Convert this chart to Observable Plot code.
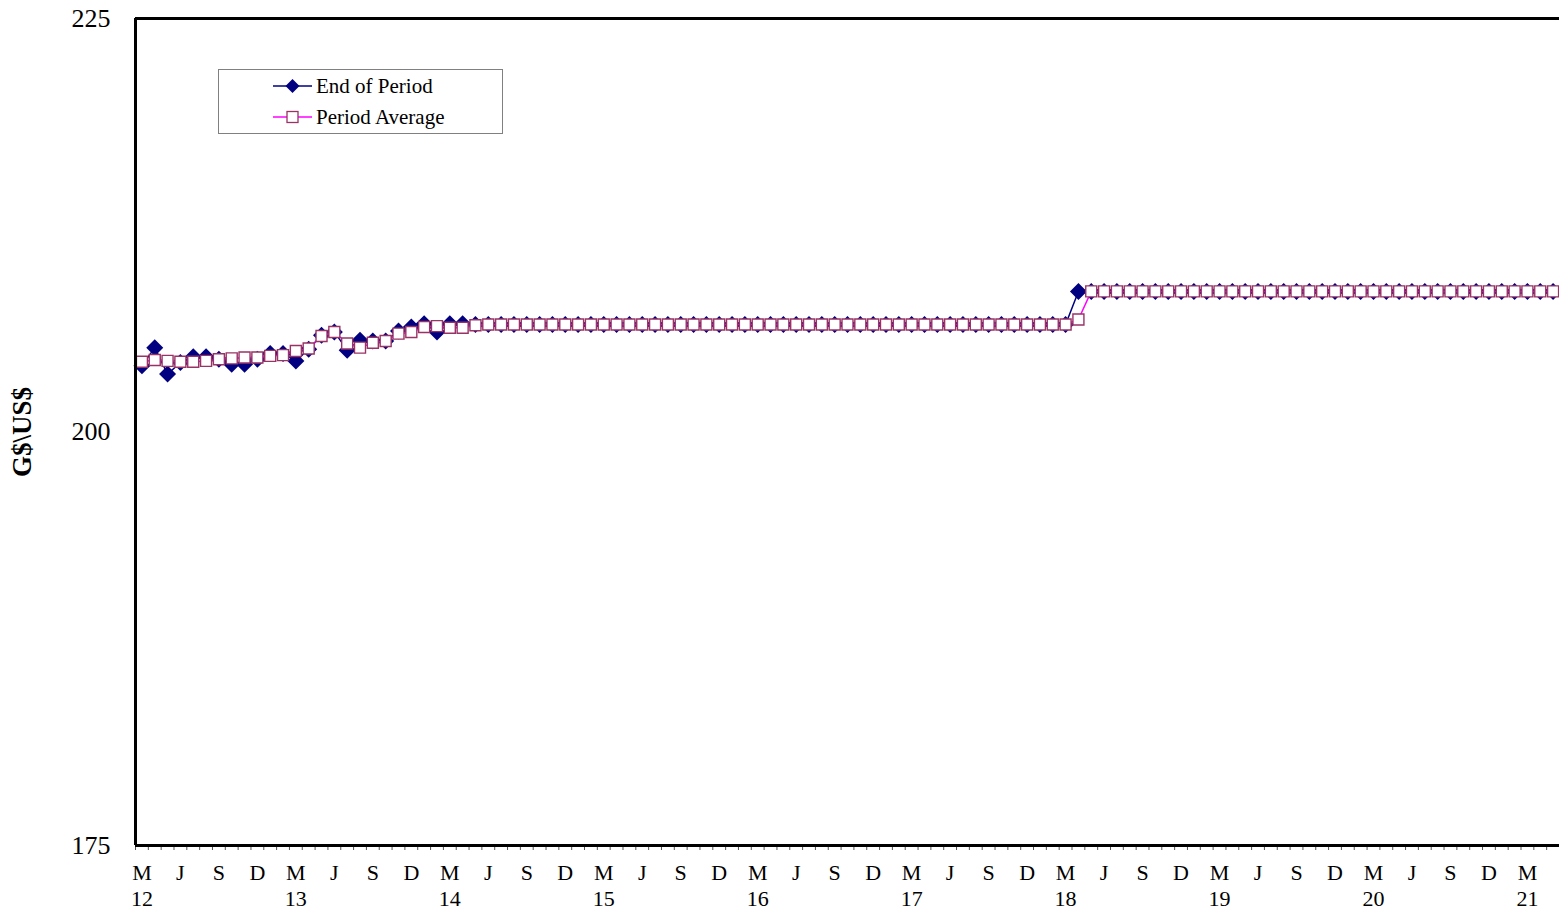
<!DOCTYPE html>
<html><head><meta charset="utf-8">
<script src="https://cdn.jsdelivr.net/npm/d3@7"></script>
<script src="https://cdn.jsdelivr.net/npm/@observablehq/plot@0.6"></script>
<style>
body{margin:0;background:#fff;}
#wrap{position:relative;width:1559px;height:916px;font-family:"Liberation Serif","Times New Roman",serif;}
#wrap svg text{font-family:"Liberation Serif","Times New Roman",serif;}
#legend{position:absolute;left:218px;top:69px;width:283px;height:63px;border:1px solid #808080;background:#fff;}
.row{position:absolute;left:0;height:24px;display:flex;align-items:center;font-size:21px;color:#000;white-space:nowrap;}
.row svg{margin-left:54px;margin-right:3px;}
</style></head><body>
<div id="wrap"><div id="legend">
<div class="row" style="top:4px"><svg width="40" height="24"><line x1="0" y1="12" x2="39" y2="12" stroke="#000080" stroke-width="1.5"/><path d="M19.5,5 L26.5,12 L19.5,19 L12.5,12 Z" fill="#000080"/></svg><span>End of Period</span></div>
<div class="row" style="top:35px"><svg width="40" height="24"><line x1="0" y1="12" x2="39" y2="12" stroke="#FF00FF" stroke-width="1.5"/><rect x="14" y="6.5" width="11" height="11" fill="#fff" stroke="#993366" stroke-width="1.3"/></svg><span>Period Average</span></div>
</div></div>
<script>
// Monthly data, March 2012 .. May 2021 (111 months)
const endOfPeriod = [
  204.0, 205.1, 203.5, 204.2, 204.55, 204.55, 204.4, 204.1, 204.1, 204.4, 204.75, 204.75,
  204.3, 205.0, 205.85, 206.05, 204.95, 205.55, 205.5, 205.5, 206.1, 206.35, 206.55, 206.05,
  206.55, 206.55, 206.5, 206.5, 206.5, 206.5, 206.5, 206.5, 206.5, 206.5, 206.5, 206.5,
  206.5, 206.5, 206.5, 206.5, 206.5, 206.5, 206.5, 206.5, 206.5, 206.5, 206.5, 206.5,
  206.5, 206.5, 206.5, 206.5, 206.5, 206.5, 206.5, 206.5, 206.5, 206.5, 206.5, 206.5,
  206.5, 206.5, 206.5, 206.5, 206.5, 206.5, 206.5, 206.5, 206.5, 206.5, 206.5, 206.5,
  206.5, 208.5, 208.5, 208.5, 208.5, 208.5, 208.5, 208.5, 208.5, 208.5, 208.5, 208.5,
  208.5, 208.5, 208.5, 208.5, 208.5, 208.5, 208.5, 208.5, 208.5, 208.5, 208.5, 208.5,
  208.5, 208.5, 208.5, 208.5, 208.5, 208.5, 208.5, 208.5, 208.5, 208.5, 208.5, 208.5,
  208.5, 208.5, 208.5
];
const periodAverage = [
  204.25, 204.35, 204.3, 204.25, 204.25, 204.3, 204.4, 204.45, 204.5, 204.5, 204.6, 204.65,
  204.9, 205.05, 205.8, 206.05, 205.35, 205.1, 205.4, 205.5, 205.95, 206.05, 206.35, 206.4,
  206.3, 206.3, 206.45, 206.5, 206.5, 206.5, 206.5, 206.5, 206.5, 206.5, 206.5, 206.5,
  206.5, 206.5, 206.5, 206.5, 206.5, 206.5, 206.5, 206.5, 206.5, 206.5, 206.5, 206.5,
  206.5, 206.5, 206.5, 206.5, 206.5, 206.5, 206.5, 206.5, 206.5, 206.5, 206.5, 206.5,
  206.5, 206.5, 206.5, 206.5, 206.5, 206.5, 206.5, 206.5, 206.5, 206.5, 206.5, 206.5,
  206.5, 206.8, 208.5, 208.5, 208.5, 208.5, 208.5, 208.5, 208.5, 208.5, 208.5, 208.5,
  208.5, 208.5, 208.5, 208.5, 208.5, 208.5, 208.5, 208.5, 208.5, 208.5, 208.5, 208.5,
  208.5, 208.5, 208.5, 208.5, 208.5, 208.5, 208.5, 208.5, 208.5, 208.5, 208.5, 208.5,
  208.5, 208.5, 208.5
];
const quarterLetters = ["M", "J", "S", "D"];
const yearLabels = ["12", "13", "14", "15", "16", "17", "18", "19", "20", "21"];
const yTicks = [175, 200, 225];
const yTitle = "G$\\US$";
const serif = "Liberation Serif, Times New Roman, serif";

const n = endOfPeriod.length;
const rows = d3.range(n).map(i => ({x: i + 0.5, end: endOfPeriod[i], avg: periodAverage[i]}));

const diamond = {draw(ctx, size) { const h = Math.sqrt(size / Math.PI); ctx.moveTo(0, -h); ctx.lineTo(h, 0); ctx.lineTo(0, h); ctx.lineTo(-h, 0); ctx.closePath(); }};
const square = {draw(ctx, size) { const h = Math.sqrt(size / Math.PI); ctx.rect(-h, -h, 2 * h, 2 * h); }};

const labelTicks = d3.range(0, n, 3).map(i => i + 0.5);
const fmt = d => {
  const k = Math.round(d - 0.5) / 3;
  const letter = quarterLetters[k % 4];
  return letter === "M" ? letter + "\n" + yearLabels[Math.floor(k / 4)] : letter;
};

const chart = Plot.plot({
  width: 1559, height: 916,
  marginLeft: 135, marginRight: 0, marginTop: 18, marginBottom: 71,
  x: {domain: [0, n], axis: null},
  y: {domain: [175, 225], axis: null},
  style: {fontFamily: serif, fontSize: "22px", background: "transparent", color: "#000"},
  marks: [
    Plot.axisX(d3.range(0, n + 1), {tickSize: 5, stroke: "#555", fill: "none", label: null}),
    Plot.axisX(labelTicks, {tickSize: 0, tickPadding: 17, tickFormat: fmt, lineHeight: 1.15, label: null, fill: "#000", fontSize: 22, fontFamily: serif}),
    Plot.axisY(yTicks, {tickSize: 0, tickPadding: 25, label: null, fill: "#000", fontSize: 26, fontFamily: serif, fontVariant: "normal"}),
    Plot.text([yTitle], {frameAnchor: "left", textAnchor: "middle", rotate: -90, dx: -113, fontWeight: "bold", fill: "#000", fontSize: 27, fontFamily: serif}),
    Plot.line(rows, {x: "x", y: "end", stroke: "#000080", strokeWidth: 1.5}),
    Plot.dot(rows, {x: "x", y: "end", symbol: diamond, r: 8.5, fill: "#000080", stroke: "none"}),
    Plot.line(rows, {x: "x", y: "avg", stroke: "#FF00FF", strokeWidth: 1.5}),
    Plot.dot(rows, {x: "x", y: "avg", symbol: square, r: 5.5, fill: "#fff", stroke: "#993366", strokeWidth: 1.4}),
    Plot.ruleY([175, 225], {stroke: "#000", strokeWidth: 3}),
    Plot.ruleX([0], {stroke: "#000", strokeWidth: 3})
  ]
});
document.getElementById("wrap").prepend(chart);
chart.style.position = "absolute";
chart.style.left = "0";
chart.style.top = "0";
</script>
</body></html>
